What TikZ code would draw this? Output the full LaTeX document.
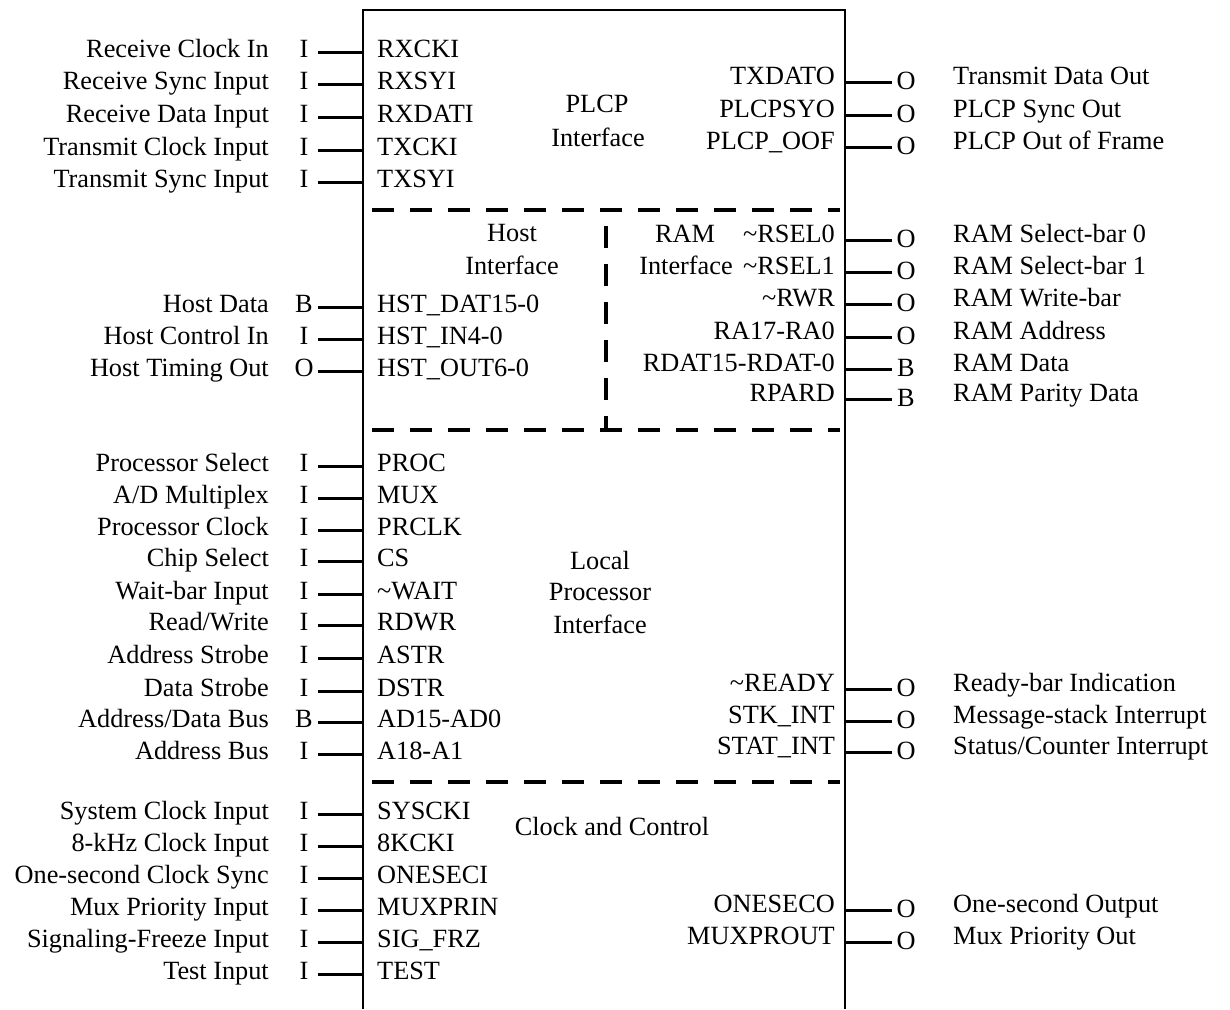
\documentclass[tikz,border=0pt]{standalone}
\usepackage{fontspec}
\setmainfont{Liberation Serif}
\newcommand{\lpinrow}[5]{%
  \node[txt, anchor=base east] (d#1) at (269,#2+8) {#3};
  \node[io, anchor=base] (i#1) at (304,#2+8) {#4};
  \node[txt, anchor=base west] (p#1) at (377,#2+8) {#5};
  \coordinate (e#1) at (363,#2+3);
  \draw[wire] (i#1.east |- e#1) -- (e#1);
}
\newcommand{\rpinrow}[5]{%
  \node[txt, anchor=base east] (p#1) at (835,#2+8) {#3};
  \node[io, anchor=base] (i#1) at (906,#2+13) {#4};
  \node[txt, anchor=base west] (d#1) at (953,#2+8) {#5};
  \coordinate (e#1) at (845,#2+6);
  \draw[wire] (e#1) -- (i#1.west |- e#1);
}
\begin{document}
\begin{tikzpicture}[x=1pt,y=-1pt,
  txt/.style={inner sep=0pt, font=\fontsize{26.3}{30}\selectfont},
  io/.style={txt, minimum width=28pt},
  wire/.style={line width=3pt},
  boxline/.style={line width=2.8pt},
  divider/.style={line width=3.2pt, dash pattern=on 22pt off 16pt}]
\useasboundingbox (0,0) rectangle (1230,1009);

% outer box (open at the bottom)
\coordinate (bl) at (363,1009);
\coordinate (tl) at (363,10);
\coordinate (tr) at (845,10);
\coordinate (br) at (845,1009);
\draw[boxline] (bl) -- (tl) -- (tr) -- (br);

% dashed section dividers
\coordinate (d1a) at (372,210); \coordinate (d1b) at (840,210);
\draw[divider] (d1a) -- (d1b);
\coordinate (d2a) at (372,430); \coordinate (d2b) at (840,430);
\draw[divider] (d2a) -- (d2b);
\coordinate (v1a) at (606,226); \coordinate (v1b) at (606,430);
\draw[divider] (v1a) -- (v1b);
\coordinate (d3a) at (372,782); \coordinate (d3b) at (840,782);
\draw[divider] (d3a) -- (d3b);

% section titles
\node[txt] (plcp1) at (597,104) {PLCP};
\node[txt] (plcp2) at (598,137) {Interface};
\node[txt] (host1) at (512,233) {Host};
\node[txt] (host2) at (512,265) {Interface};
\node[txt, anchor=base] (ram1) at (685,242) {RAM};
\node[txt, anchor=base] (ram2) at (686,274) {Interface};
\node[txt] (lp1) at (600,560) {Local};
\node[txt] (lp2) at (600,592) {Processor};
\node[txt] (lp3) at (600,624) {Interface};
\node[txt] (cc) at (612,826) {Clock and Control};

% left pins: PLCP
\lpinrow{a1}{49}{Receive Clock In}{I}{RXCKI}
\lpinrow{a2}{81}{Receive Sync Input}{I}{RXSYI}
\lpinrow{a3}{114}{Receive Data Input}{I}{RXDATI}
\lpinrow{a4}{147}{Transmit Clock Input}{I}{TXCKI}
\lpinrow{a5}{179}{Transmit Sync Input}{I}{TXSYI}
% host
\lpinrow{b1}{304}{Host Data}{B}{HST\_DAT15-0}
\lpinrow{b2}{336}{Host Control In}{I}{HST\_IN4-0}
\lpinrow{b3}{368}{Host Timing Out}{O}{HST\_OUT6-0}
% local processor
\lpinrow{c1}{463}{Processor Select}{I}{PROC}
\lpinrow{c2}{495}{A/D Multiplex}{I}{MUX}
\lpinrow{c3}{527}{Processor Clock}{I}{PRCLK}
\lpinrow{c4}{558}{Chip Select}{I}{CS}
\lpinrow{c5}{591}{Wait-bar Input}{I}{\textasciitilde WAIT}
\lpinrow{c6}{622}{Read/Write}{I}{RDWR}
\lpinrow{c7}{655}{Address Strobe}{I}{ASTR}
\lpinrow{c8}{688}{Data Strobe}{I}{DSTR}
\lpinrow{c9}{719}{Address/Data Bus}{B}{AD15-AD0}
\lpinrow{c10}{751}{Address Bus}{I}{A18-A1}
% clock and control
\lpinrow{e1}{811}{System Clock Input}{I}{SYSCKI}
\lpinrow{e2}{843}{8-kHz Clock Input}{I}{8KCKI}
\lpinrow{e3}{875}{One-second Clock Sync}{I}{ONESECI}
\lpinrow{e4}{907}{Mux Priority Input}{I}{MUXPRIN}
\lpinrow{e5}{939}{Signaling-Freeze Input}{I}{SIG\_FRZ}
\lpinrow{e6}{971}{Test Input}{I}{TEST}

% right pins
\rpinrow{f1}{76}{TXDATO}{O}{Transmit Data Out}
\rpinrow{f2}{109}{PLCPSYO}{O}{PLCP Sync Out}
\rpinrow{f3}{141}{PLCP\_OOF}{O}{PLCP Out of Frame}
\rpinrow{g1}{234}{\textasciitilde RSEL0}{O}{RAM Select-bar 0}
\rpinrow{g2}{266}{\textasciitilde RSEL1}{O}{RAM Select-bar 1}
\rpinrow{g3}{298}{\textasciitilde RWR}{O}{RAM Write-bar}
\rpinrow{g4}{331}{RA17-RA0}{O}{RAM Address}
\rpinrow{g5}{363}{RDAT15-RDAT-0}{B}{RAM Data}
\rpinrow{g6}{393}{RPARD}{B}{RAM Parity Data}
\rpinrow{h1}{683}{\textasciitilde READY}{O}{Ready-bar Indication}
\rpinrow{h2}{715}{STK\_INT}{O}{Message-stack Interrupt}
\rpinrow{h3}{746}{STAT\_INT}{O}{Status/Counter Interrupt}
\rpinrow{k1}{904}{ONESECO}{O}{One-second Output}
\rpinrow{k2}{936}{MUXPROUT}{O}{Mux Priority Out}
\end{tikzpicture}
\end{document}
